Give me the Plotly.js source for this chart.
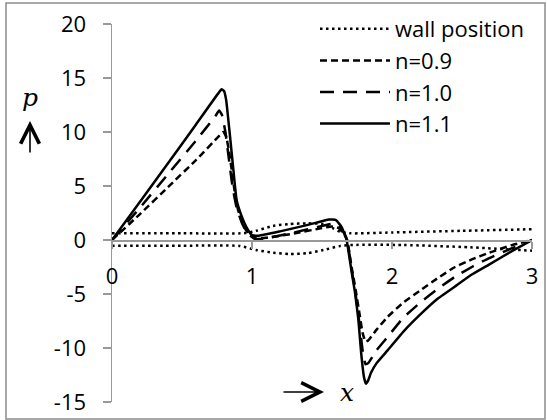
<!DOCTYPE html>
<html>
<head>
<meta charset="utf-8">
<script src="https://cdn.plot.ly/plotly-3.0.1.min.js"></script>
<style>
html,body{margin:0;padding:0;background:#fff;}
#chart{width:547px;height:420px;}
</style>
</head>
<body>
<div id="chart"></div>
<script>
// ---- data ----
var seriesNames = ["wall position", "n=0.9", "n=1.0", "n=1.1"];

var wallUpperX = [0, 0.5, 0.95, 1.03, 1.15, 1.27, 1.39, 1.51, 1.58, 1.63, 1.7, 2.0, 2.5, 3.0];
var wallUpperY = [0.62, 0.62, 0.64, 0.85, 1.3, 1.48, 1.54, 1.48, 1.08, 0.77, 0.62, 0.7, 0.85, 1.0];
var wallLowerX = [0, 0.5, 0.91, 1.03, 1.15, 1.27, 1.39, 1.51, 1.63, 1.72, 2.08, 2.56, 3.0];
var wallLowerY = [-0.53, -0.53, -0.55, -0.93, -1.17, -1.3, -1.23, -0.93, -0.55, -0.46, -0.46, -0.68, -0.99];

var n09X = [0, 0.2, 0.4, 0.6, 0.77, 0.795, 0.815, 0.835, 0.855, 0.875, 0.9, 0.94, 0.98, 1.03, 1.1, 1.3, 1.5, 1.57, 1.62, 1.66, 1.68, 1.71, 1.74, 1.77, 1.79, 1.81, 1.83, 1.89, 1.97, 2.08, 2.21, 2.33, 2.45, 2.57, 2.69, 2.85, 3.0];
var n09Y = [0, 2.4, 4.9, 7.4, 9.7, 10.0, 9.6, 8.3, 6.5, 4.6, 2.8, 1.3, 0.5, 0.15, 0.2, 0.6, 1.1, 1.25, 1.1, 0.5, 0, -2.4, -4.6, -7.0, -8.6, -9.4, -9.3, -8.3, -7.1, -5.8, -4.6, -3.5, -2.5, -1.8, -1.2, -0.5, 0];

var n10X = [0, 0.2, 0.4, 0.6, 0.74, 0.765, 0.785, 0.81, 0.835, 0.86, 0.89, 0.93, 0.97, 1.02, 1.1, 1.3, 1.5, 1.57, 1.62, 1.66, 1.68, 1.71, 1.74, 1.77, 1.79, 1.81, 1.83, 1.89, 1.97, 2.08, 2.21, 2.33, 2.45, 2.57, 2.69, 2.85, 3.0];
var n10Y = [0, 3.0, 6.1, 9.2, 11.5, 12.0, 11.6, 10.0, 7.5, 5.0, 3.0, 1.5, 0.6, 0.1, 0.15, 0.7, 1.3, 1.5, 1.3, 0.6, 0, -2.6, -5.0, -8.0, -10.2, -11.5, -11.4, -10.2, -8.95, -7.2, -5.7, -4.5, -3.4, -2.5, -1.7, -0.8, 0];

var n11X = [0, 0.2, 0.4, 0.6, 0.76, 0.783, 0.8, 0.815, 0.843, 0.867, 0.89, 0.926, 0.96, 1.0, 1.05, 1.2, 1.4, 1.55, 1.6, 1.64, 1.66, 1.676, 1.71, 1.736, 1.76, 1.78, 1.8, 1.814, 1.83, 1.85, 1.89, 1.97, 2.08, 2.21, 2.33, 2.45, 2.57, 2.69, 2.85, 3.0];
var n11Y = [0, 3.55, 7.1, 10.7, 13.6, 13.95, 13.8, 13.0, 9.6, 6.5, 3.7, 2.2, 1.2, 0.45, 0.4, 0.8, 1.4, 1.9, 1.85, 1.2, 0.6, 0, -2.8, -4.9, -7.4, -10.5, -12.7, -13.3, -13.0, -12.3, -11.4, -10.2, -8.5, -6.8, -5.4, -4.3, -3.2, -2.3, -1.08, 0];

var xTicks = [0, 1, 2, 3];
var yTicks = [-15, -10, -5, 0, 5, 10, 15, 20];

// ---- layout constants ----
var W = 547, H = 420;
var mL = 112, mR = 15, mT = 24, mB = 18;
var pw = W - mL - mR, ph = H - mT - mB;
function px2x(p){ return (p - mL) / pw; }
function px2y(p){ return (H - mB - p) / ph; }

var FONT = "Open Sans";
var BLACK = "#000000";
var GRAY = "#999999";

var curveLine = function(dash){
  var l = {color: BLACK, width: 2.5, shape: "spline", smoothing: 0.35};
  if (dash) l.dash = dash;
  return l;
};

var traces = [
  {x: wallUpperX, y: wallUpperY, name: seriesNames[0], legendgroup: "wall", mode: "lines",
   line: {color: BLACK, width: 2.5, dash: "2.5px,3.5px", shape: "spline", smoothing: 0.6}},
  {x: wallLowerX, y: wallLowerY, name: seriesNames[0], legendgroup: "wall", showlegend: false, mode: "lines",
   line: {color: BLACK, width: 2.5, dash: "2.5px,3.5px", shape: "spline", smoothing: 0.6}},
  {x: n09X, y: n09Y, name: seriesNames[1], mode: "lines", line: curveLine("7px,4px")},
  {x: n10X, y: n10Y, name: seriesNames[2], mode: "lines", line: curveLine("14px,9px")},
  {x: n11X, y: n11Y, name: seriesNames[3], mode: "lines", line: curveLine(null)}
];

var layout = {
  width: W, height: H,
  margin: {l: mL, r: mR, t: mT, b: mB, pad: 0, autoexpand: false},
  paper_bgcolor: "#ffffff", plot_bgcolor: "#ffffff",
  font: {family: FONT, size: 22, color: BLACK},
  showlegend: true,
  legend: {
    xref: "container", yref: "container",
    x: 315 / W, y: 1 - 8 / H, xanchor: "left", yanchor: "top",
    bgcolor: "rgba(0,0,0,0)", borderwidth: 0, itemwidth: 70,
    font: {family: FONT, size: 22, color: BLACK}, tracegroupgap: 0,
    traceorder: "normal"
  },
  xaxis: {
    range: [0, 3], tickvals: xTicks, ticktext: xTicks.map(String),
    showgrid: false, zeroline: false, showline: true, linecolor: GRAY, linewidth: 1.5,
    ticks: "outside", ticklen: 7, tickwidth: 1.5, tickcolor: GRAY,
    anchor: "free", position: 15 / 35, ticklabelstandoff: 9,
    tickfont: {family: FONT, size: 22, color: BLACK}, fixedrange: true
  },
  yaxis: {
    range: [-15, 20], tickvals: yTicks, ticktext: yTicks.map(String),
    showgrid: false, zeroline: false, showline: true, linecolor: GRAY, linewidth: 1.5,
    ticks: "outside", ticklen: 8, tickwidth: 1.5, tickcolor: GRAY,
    ticklabelstandoff: 12,
    tickfont: {family: FONT, size: 22, color: BLACK}, fixedrange: true
  },
  shapes: [
    {type: "rect", xref: "paper", yref: "paper",
     x0: px2x(6), x1: px2x(545), y0: px2y(419), y1: px2y(3),
     line: {color: "#8c8c8c", width: 1.5}, fillcolor: "rgba(0,0,0,0)", layer: "below"}
  ],
  annotations: [
    {xref: "paper", yref: "paper", x: px2x(30), y: px2y(97), text: "<i>p</i>", showarrow: false,
     font: {family: "DejaVu Serif", size: 25, color: BLACK}, xanchor: "center", yanchor: "middle"},
    {xref: "paper", yref: "paper", x: px2x(30), y: px2y(121), text: "", showarrow: true,
     ax: 0, ay: 33, arrowhead: 5, arrowsize: 2.3, arrowwidth: 1.6, arrowcolor: BLACK},
    {xref: "paper", yref: "paper", x: px2x(324), y: px2y(392), text: "", showarrow: true,
     ax: -42, ay: 0, arrowhead: 5, arrowsize: 2.3, arrowwidth: 1.6, arrowcolor: BLACK},
    {xref: "paper", yref: "paper", x: px2x(347), y: px2y(392), text: "<i>x</i>", showarrow: false,
     font: {family: "DejaVu Serif", size: 25, color: BLACK}, xanchor: "center", yanchor: "middle"}
  ]
};

Plotly.newPlot("chart", traces, layout, {staticPlot: true, displayModeBar: false});
</script>
</body>
</html>
